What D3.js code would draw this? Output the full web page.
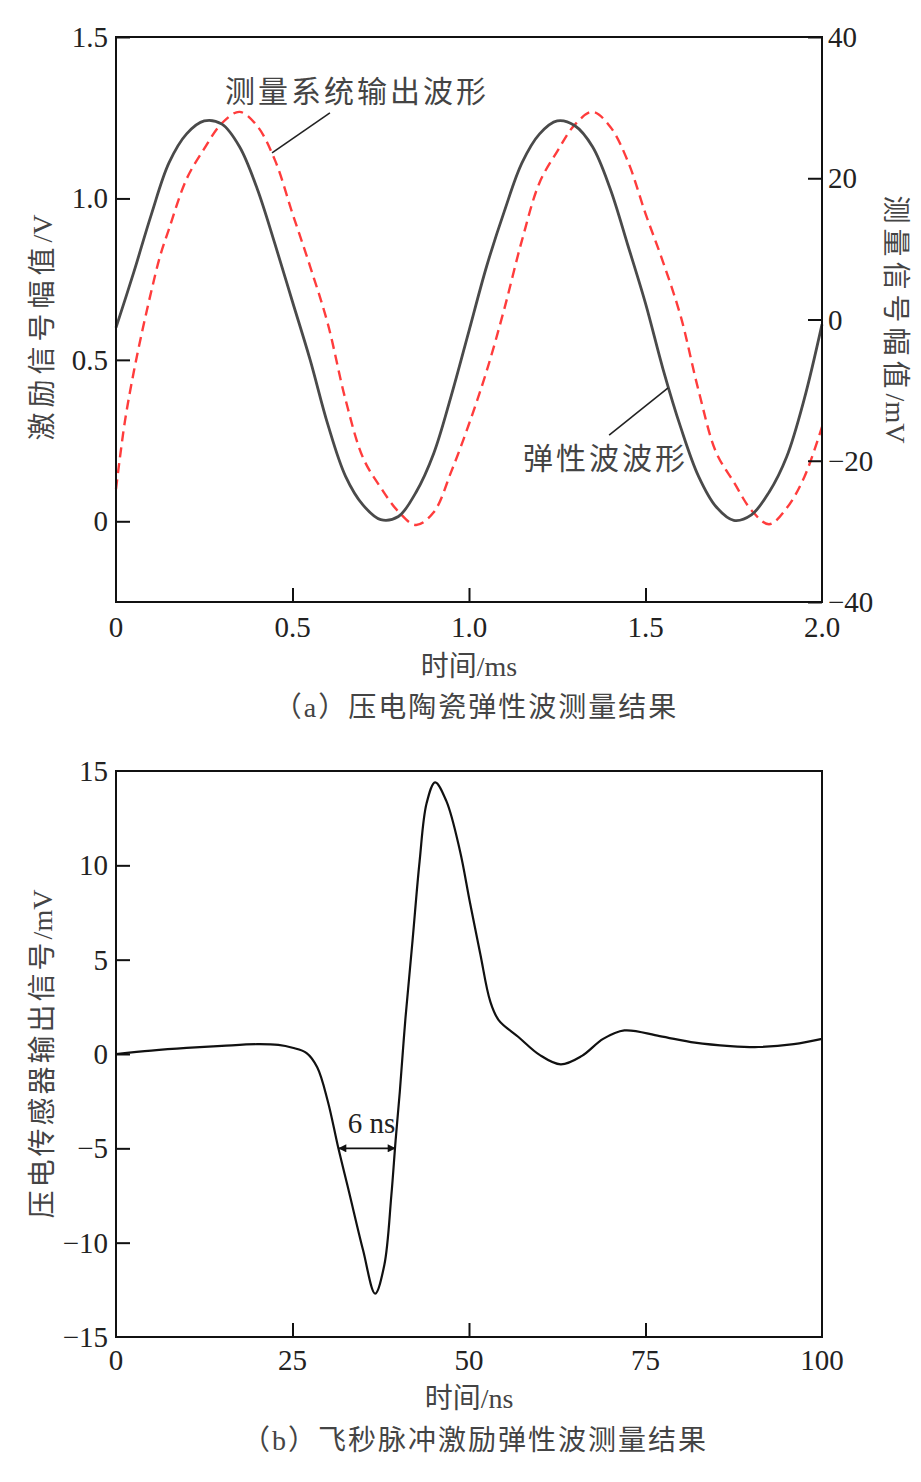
<!DOCTYPE html>
<html>
<head>
<meta charset="utf-8">
<script src="https://cdn.jsdelivr.net/npm/d3@7"></script>
<style>
  body { margin: 0; background: #fff; }
  svg text { font-family: "Liberation Serif", "Noto Sans CJK SC", serif; }
</style>
</head>
<body>
<div id="chart"></div>
<script>
// (a) piezo ceramic: time in ms
const timeA = [0, 0.05, 0.1, 0.15, 0.2, 0.25, 0.3, 0.35, 0.4, 0.45, 0.5, 0.55, 0.6, 0.65, 0.7, 0.75, 0.8, 0.85, 0.9, 0.95,
  1.0, 1.05, 1.1, 1.15, 1.2, 1.25, 1.3, 1.35, 1.4, 1.45, 1.5, 1.55, 1.6, 1.65, 1.7, 1.75, 1.8, 1.85, 1.9, 1.95, 2.0];
// excitation signal, V (left axis)
const excitation = [0.60, 0.77, 0.95, 1.11, 1.20, 1.24, 1.23, 1.16, 1.03, 0.86, 0.68, 0.50, 0.30, 0.14, 0.05, 0.005, 0.015, 0.09, 0.21, 0.39,
  0.59, 0.79, 0.96, 1.11, 1.20, 1.24, 1.225, 1.16, 1.03, 0.855, 0.675, 0.47, 0.29, 0.14, 0.045, 0.003, 0.02, 0.09, 0.20, 0.38, 0.61];
// measurement output, mV (right axis)
const measured = [-24.0, -7.5, 4.0, 12.8, 19.9, 24.2, 27.8, 29.4, 27.4, 22.6, 15.0, 7.5, -0.6, -11.3, -19.6, -23.8, -27.2, -29.1, -27.3, -21.5,
  -14.8, -7.3, 1.5, 11.2, 19.4, 23.8, 27.6, 29.4, 27.3, 22.4, 15.0, 8.1, 0.4, -10.0, -18.8, -23.0, -27.0, -29.0, -26.7, -22.3, -15.2];
// extra early points for the steep start of the dashed curve
const measuredStartT = [0, 0.025, 0.05, 0.075, 0.1, 0.125];
const measuredStartV = [-24.0, -14.5, -7.5, -1.5, 4.0, 9.0];

const ticksAx = [0.5, 1.0, 1.5];
const ticksAxLabels = [0, 0.5, 1.0, 1.5, 2.0];
const ticksAyL = [0, 0.5, 1.0, 1.5];
const ticksAyR = [-40, -20, 0, 20, 40];

// (b) femtosecond pulse: time in ns, signal in mV
const timeB = [0, 5, 10, 15, 20, 23, 25, 27, 28.5, 30, 31.5, 33, 35, 36.7, 38, 39, 39.6, 40.2, 41, 42, 43, 44, 45.2, 46.8,
  48.7, 50.1, 51.6, 53, 54.2, 57, 60, 63, 66, 69, 72, 77, 82, 87, 91, 96, 100];
const pulse = [0, 0.18, 0.32, 0.43, 0.52, 0.48, 0.33, 0.05, -0.7, -2.5, -5.0, -7.3, -10.4, -12.7, -11.2, -7.5, -4.6, -2.0, 1.9, 6.0, 10.2, 13.3, 14.4, 13.4,
  10.8, 8.1, 5.3, 2.8, 1.8, 0.9, -0.05, -0.55, -0.1, 0.8, 1.25, 0.95, 0.6, 0.42, 0.37, 0.52, 0.8];
const ticksBx = [0, 25, 50, 75, 100];
const ticksBy = [-15, -10, -5, 0, 5, 10, 15];

const fmt = (v) => (v < 0 ? "\u2212" + Math.abs(v) : String(v));

const width = 921, height = 1482;
const svg = d3.select("#chart").append("svg")
  .attr("width", width)
  .attr("height", height)
  .attr("viewBox", `0 0 ${width} ${height}`);

const tickFont = 29, cjkFont = 28;

// title helper: CJK part spaced out, unit part in plain serif
function title(sel, cjk, unit, spacing) {
  sel.append("tspan").style("letter-spacing", spacing + "px").text(cjk);
  sel.append("tspan").text(unit);
  return sel;
}

// ---------- chart (a) ----------
const xA = d3.scaleLinear().domain([0, 2]).range([116, 822]);
const yL = d3.scaleLinear().domain([-0.25, 1.5]).range([602, 37]);
const yR = d3.scaleLinear().domain([-40, 40]).range([602, 37]);

const gA = svg.append("g");

const lineEx = d3.line().x((d) => xA(d[0])).y((d) => yL(d[1])).curve(d3.curveCatmullRom);
const lineMe = d3.line().x((d) => xA(d[0])).y((d) => yR(d[1])).curve(d3.curveCatmullRom);

const exData = timeA.map((t, i) => [t, excitation[i]]);
const meData = measuredStartT.map((t, i) => [t, measuredStartV[i]])
  .concat(timeA.filter((t) => t > 0.125).map((t) => [t, measured[timeA.indexOf(t)]]));

gA.append("path")
  .attr("d", lineMe(meData))
  .attr("fill", "none")
  .attr("stroke", "#ff3c3c")
  .attr("stroke-width", 2.4)
  .attr("stroke-dasharray", "10,6");

gA.append("path")
  .attr("d", lineEx(exData))
  .attr("fill", "none")
  .attr("stroke", "#4a4a4a")
  .attr("stroke-width", 2.8);

// frame
gA.append("rect")
  .attr("x", xA(0)).attr("y", yL(1.5))
  .attr("width", xA(2) - xA(0)).attr("height", yL(-0.25) - yL(1.5))
  .attr("fill", "none").attr("stroke", "#111").attr("stroke-width", 2);

// inward ticks
gA.append("g").attr("transform", `translate(0,${yL(-0.25)})`)
  .call(d3.axisBottom(xA).tickValues(ticksAx).tickSizeInner(-14).tickSizeOuter(0).tickFormat(""))
  .call((g) => g.select(".domain").remove())
  .call((g) => g.selectAll("line").attr("stroke", "#111").attr("stroke-width", 2));
gA.append("g").attr("transform", `translate(${xA(0)},0)`)
  .call(d3.axisLeft(yL).tickValues(ticksAyL).tickSizeInner(-14).tickSizeOuter(0).tickFormat(""))
  .call((g) => g.select(".domain").remove())
  .call((g) => g.selectAll("line").attr("stroke", "#111").attr("stroke-width", 2));
gA.append("g").attr("transform", `translate(${xA(2)},0)`)
  .call(d3.axisRight(yR).tickValues(ticksAyR).tickSizeInner(-14).tickSizeOuter(0).tickFormat(""))
  .call((g) => g.select(".domain").remove())
  .call((g) => g.selectAll("line").attr("stroke", "#111").attr("stroke-width", 2));

// tick labels
gA.selectAll(".xl").data(ticksAxLabels).enter().append("text")
  .attr("x", (d) => xA(d)).attr("y", 637)
  .attr("text-anchor", "middle")
  .style("font-size", tickFont + "px").style("fill", "#222")
  .text((d) => (d === 0 ? "0" : d.toFixed(1)));
gA.selectAll(".yl").data(ticksAyL).enter().append("text")
  .attr("x", xA(0) - 8).attr("y", (d) => yL(d) + 10)
  .attr("text-anchor", "end")
  .style("font-size", tickFont + "px").style("fill", "#222")
  .text((d) => (d === 0 ? "0" : d.toFixed(1)));
gA.selectAll(".yr").data(ticksAyR).enter().append("text")
  .attr("x", xA(2) + 6).attr("y", (d) => yR(d) + 10)
  .attr("text-anchor", "start")
  .style("font-size", tickFont + "px").style("fill", "#222")
  .text(fmt);

// axis titles
gA.append("text")
  .attr("transform", `translate(42,${yL(0.6)}) rotate(-90)`)
  .attr("text-anchor", "middle").attr("dominant-baseline", "central")
  .style("font-size", cjkFont + "px").style("fill", "#444")
  .call(title, "激励信号幅值", "/V", 5);
gA.append("text")
  .attr("transform", `translate(896,${yR(0)}) rotate(90)`)
  .attr("text-anchor", "middle").attr("dominant-baseline", "central")
  .style("font-size", cjkFont + "px").style("fill", "#444")
  .call(title, "测量信号幅值", "/mV", 5);
gA.append("text")
  .attr("x", xA(1)).attr("y", 666)
  .attr("text-anchor", "middle").attr("dominant-baseline", "central")
  .style("font-size", cjkFont + "px").style("fill", "#444")
  .text("时间/ms");
gA.append("text")
  .attr("x", 476).attr("y", 707)
  .attr("text-anchor", "middle").attr("dominant-baseline", "central")
  .style("font-size", cjkFont + "px").style("fill", "#444").style("letter-spacing", "2px")
  .text("（a）压电陶瓷弹性波测量结果");

// annotations (data coordinates on left axis)
const notes = [
  { label: "测量系统输出波形", tx: 0.309, ty: 1.33, from: [0.606, 1.265], to: [0.442, 1.141] },
  { label: "弹性波波形", tx: 1.153, ty: 0.196, from: [1.397, 0.267], to: [1.564, 0.413] }
];
notes.forEach((n) => {
  gA.append("line")
    .attr("x1", xA(n.from[0])).attr("y1", yL(n.from[1]))
    .attr("x2", xA(n.to[0])).attr("y2", yL(n.to[1]))
    .attr("stroke", "#222").attr("stroke-width", 1.6);
  gA.append("text")
    .attr("x", xA(n.tx)).attr("y", yL(n.ty))
    .attr("dominant-baseline", "central")
    .style("font-size", "30px").style("fill", "#444").style("letter-spacing", "3px")
    .text(n.label);
});

// ---------- chart (b) ----------
const xB = d3.scaleLinear().domain([0, 100]).range([116, 822]);
const yB = d3.scaleLinear().domain([-15, 15]).range([1337, 771]);
const gB = svg.append("g");

const lineB = d3.line().x((d) => xB(d[0])).y((d) => yB(d[1])).curve(d3.curveCatmullRom);
gB.append("path")
  .attr("d", lineB(timeB.map((t, i) => [t, pulse[i]])))
  .attr("fill", "none")
  .attr("stroke", "#111")
  .attr("stroke-width", 2.2);

gB.append("rect")
  .attr("x", xB(0)).attr("y", yB(15))
  .attr("width", xB(100) - xB(0)).attr("height", yB(-15) - yB(15))
  .attr("fill", "none").attr("stroke", "#111").attr("stroke-width", 2);

gB.append("g").attr("transform", `translate(0,${yB(-15)})`)
  .call(d3.axisBottom(xB).tickValues(ticksBx.slice(1, -1)).tickSizeInner(-14).tickSizeOuter(0).tickFormat(""))
  .call((g) => g.select(".domain").remove())
  .call((g) => g.selectAll("line").attr("stroke", "#111").attr("stroke-width", 2));
gB.append("g").attr("transform", `translate(${xB(0)},0)`)
  .call(d3.axisLeft(yB).tickValues(ticksBy.slice(1, -1)).tickSizeInner(-14).tickSizeOuter(0).tickFormat(""))
  .call((g) => g.select(".domain").remove())
  .call((g) => g.selectAll("line").attr("stroke", "#111").attr("stroke-width", 2));

gB.selectAll(".xl").data(ticksBx).enter().append("text")
  .attr("x", (d) => xB(d)).attr("y", 1370)
  .attr("text-anchor", "middle")
  .style("font-size", tickFont + "px").style("fill", "#222")
  .text((d) => d);
gB.selectAll(".yl").data(ticksBy).enter().append("text")
  .attr("x", xB(0) - 8).attr("y", (d) => yB(d) + 10)
  .attr("text-anchor", "end")
  .style("font-size", tickFont + "px").style("fill", "#222")
  .text(fmt);

gB.append("text")
  .attr("transform", `translate(42,${yB(0)}) rotate(-90)`)
  .attr("text-anchor", "middle").attr("dominant-baseline", "central")
  .style("font-size", cjkFont + "px").style("fill", "#444")
  .call(title, "压电传感器输出信号", "/mV", 3);
gB.append("text")
  .attr("x", xB(50)).attr("y", 1398)
  .attr("text-anchor", "middle").attr("dominant-baseline", "central")
  .style("font-size", cjkFont + "px").style("fill", "#444")
  .text("时间/ns");
gB.append("text")
  .attr("x", 475).attr("y", 1440)
  .attr("text-anchor", "middle").attr("dominant-baseline", "central")
  .style("font-size", cjkFont + "px").style("fill", "#444").style("letter-spacing", "2px")
  .text("（b）飞秒脉冲激励弹性波测量结果");

// 6 ns width marker
const defs = svg.append("defs");
defs.append("marker")
  .attr("id", "ah").attr("viewBox", "0 0 10 10").attr("refX", 9).attr("refY", 5)
  .attr("markerWidth", 10).attr("markerHeight", 8).attr("markerUnits", "userSpaceOnUse")
  .attr("orient", "auto-start-reverse")
  .append("path").attr("d", "M0,0 L10,5 L0,10 Z").attr("fill", "#111");
gB.append("line")
  .attr("x1", xB(31.6)).attr("x2", xB(39.5))
  .attr("y1", yB(-5)).attr("y2", yB(-5))
  .attr("stroke", "#111").attr("stroke-width", 1.8)
  .attr("marker-start", "url(#ah)").attr("marker-end", "url(#ah)");
gB.append("text")
  .attr("x", xB(36.2)).attr("y", yB(-4.2))
  .attr("text-anchor", "middle")
  .style("font-size", tickFont + "px").style("fill", "#222")
  .text("6 ns");
</script>
</body>
</html>
